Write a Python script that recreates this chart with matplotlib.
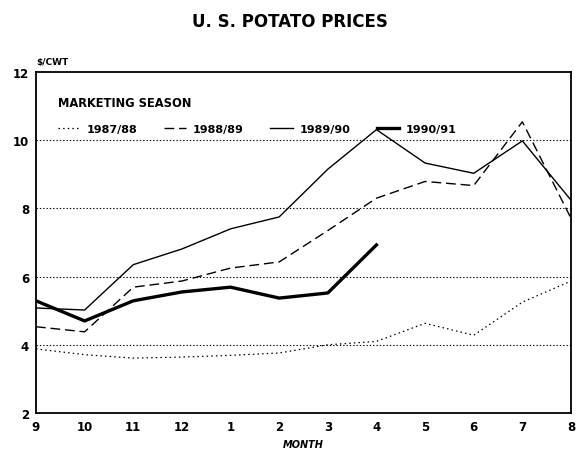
import numpy as np
import matplotlib
matplotlib.use('Agg')
import matplotlib.pyplot as plt

plt.rcParams['font.family'] = ['DejaVu Sans']

months = ['9', '10', '11', '12', '1', '2', '3', '4', '5', '6', '7', '8']
p8788 = [3.88, 3.71, 3.61, 3.64, 3.69, 3.76, 4.00, 4.10, 4.63, 4.28, 5.25, 5.87]
p8889 = [4.53, 4.38, 5.69, 5.87, 6.25, 6.43, 7.35, 8.30, 8.79, 8.67, 10.54, 7.71]
p8990 = [5.08, 5.02, 6.35, 6.81, 7.40, 7.75, 9.15, 10.31, 9.33, 9.03, 9.98, 8.24]
p9091 = [5.29, 4.70, 5.29, 5.55, 5.69, 5.37, 5.52, 6.93]

x = np.arange(len(months))

fig = plt.figure(figsize=(5.79, 4.52), dpi=100)
ax = fig.add_axes([36/579, 38/452, 535/579, 341/452])

# dotted grid lines
for g in [4, 6, 8, 10]:
    ax.axhline(g, color='black', lw=0.8, ls=(0, (1.2, 1.8)), zorder=1)

ax.plot(x, p8788, color='black', lw=0.9, ls=(0, (1.2, 2.5)), label='1987/88')
ax.plot(x, p8889, color='black', lw=1.0, ls=(0, (7, 3.5)), label='1988/89')
ax.plot(x, p8990, color='black', lw=1.0, ls='-', label='1989/90')
ax.plot(x[:len(p9091)], p9091, color='black', lw=2.4, ls='-', label='1990/91')

ax.set_xlim(0, 11)
ax.set_ylim(2, 12)
ax.set_yticks([2, 4, 6, 8, 10, 12])
ax.set_xticks(x)
ax.set_xticklabels(months)
ax.tick_params(length=0, labelsize=8.5)
ax.tick_params(axis='x', pad=5)
ax.tick_params(axis='y', pad=5)
for lab in ax.get_xticklabels() + ax.get_yticklabels():
    lab.set_fontweight('bold')
for s in ax.spines.values():
    s.set_linewidth(1.3)

leg = ax.legend(ncol=4, loc='upper left', bbox_to_anchor=(0.03, 0.945),
                frameon=False, fontsize=8, handlelength=2.0,
                handletextpad=0.6, columnspacing=2.4, borderpad=0,
                title='MARKETING SEASON', alignment='left', labelspacing=1.3,
                title_fontproperties={'weight': 'bold', 'size': 8.3})
for t in leg.get_texts():
    t.set_fontweight('bold')

fig.text(36/579, 1 - 62/452, '$/CWT', fontsize=6.5, fontweight='bold',
         ha='left', va='center')
fig.text(0.5, 1 - 22/452, 'U. S. POTATO PRICES', fontsize=12, fontweight='bold',
         ha='center', va='center')
fig.text(303.5/579, 1 - 445/452, 'MONTH', fontsize=7, fontweight='bold',
         style='italic', ha='center', va='center')

fig.savefig('out.png', dpi=100)
